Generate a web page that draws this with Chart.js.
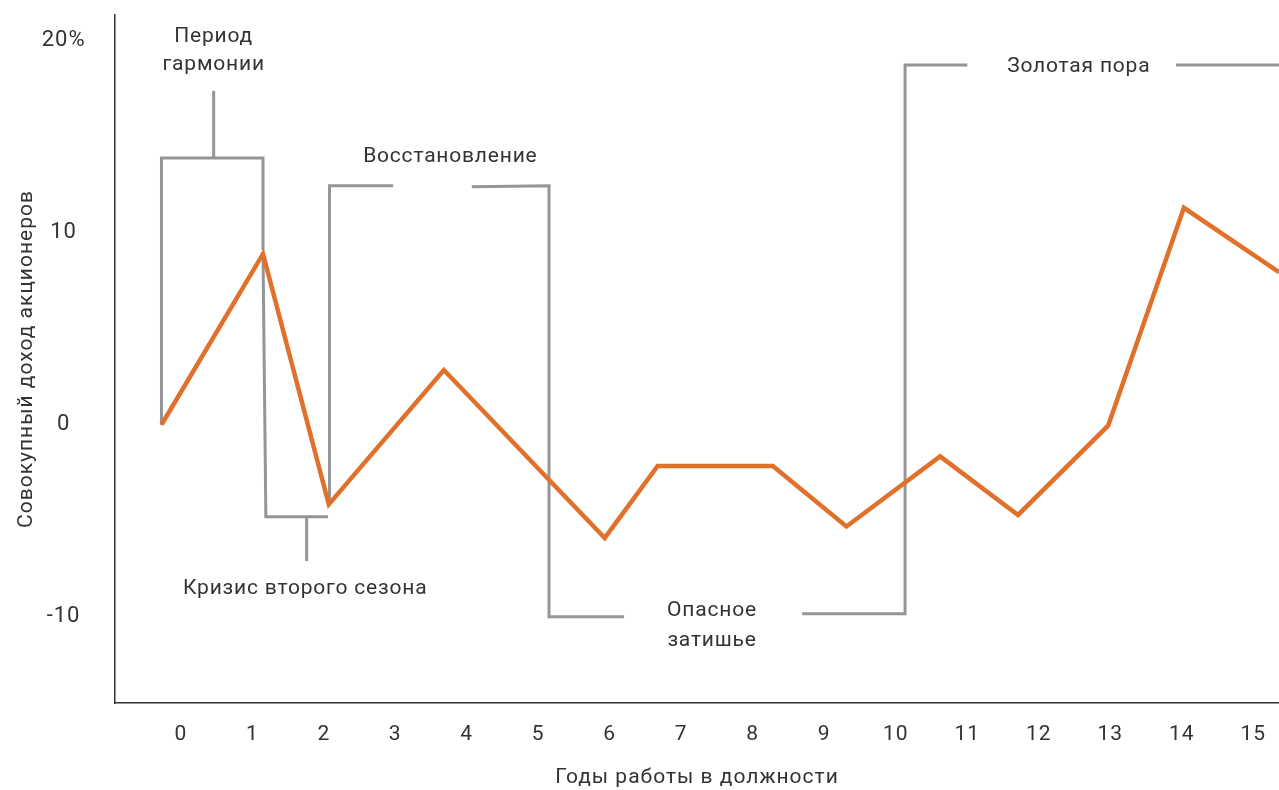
<!DOCTYPE html>
<html>
<head>
<meta charset="utf-8">
<script src="https://cdn.jsdelivr.net/npm/chart.js"></script>
<style>
  html, body { margin: 0; padding: 0; background: #fff; }
  #wrap { width: 1279px; height: 790px; }
</style>
</head>
<body>
<div id="wrap"><canvas id="tsrChart"></canvas></div>
<script>
// data
var years = [-0.27, 1.15, 2.07, 3.68, 5.93, 6.67, 8.28, 9.31, 10.62, 11.71, 12.97, 14.03, 15.36];
var tsr   = [0, 8.9, -4.15, 2.85, -5.9, -2.15, -2.15, -5.3, -1.65, -4.7, -0.05, 11.3, 7.95];
var xTicks = [0, 1, 2, 3, 4, 5, 6, 7, 8, 9, 10, 11, 12, 13, 14, 15];
var yTicks = [-10, 0, 10, 20];

// bracket lines, in chart units
var brackets = [
  [[-0.27, 0], [-0.27, 13.9], [1.15, 13.9], [1.15, 9.1]],
  [[0.46, 13.9], [0.46, 17.4]],
  [[1.15, 9.0], [1.19, -4.8], [2.06, -4.8]],
  [[1.76, -4.8], [1.76, -7.1]],
  [[2.08, -4.1], [2.08, 12.45], [2.97, 12.45]],
  [[4.07, 12.4], [5.15, 12.45], [5.15, -10.0], [6.2, -10.0]],
  [[8.69, -9.85], [10.13, -9.85], [10.13, 18.75], [11.0, 18.75]],
  [[13.92, 18.75], [15.5, 18.75]]
];
var phaseLabels = [
  { text: 'Период', x: 0.46, y: 20.2 },
  { text: 'гармонии', x: 0.46, y: 18.75 },
  { text: 'Кризис второго сезона', x: 1.74, y: -8.54 },
  { text: 'Восстановление', x: 3.77, y: 13.96 },
  { text: 'Опасное', x: 7.43, y: -9.69 },
  { text: 'затишье', x: 7.43, y: -11.25 },
  { text: 'Золотая пора', x: 12.56, y: 18.65 }
];

var textColor = '#333333';
var fontFamily = 'Roboto, "Noto Sans", sans-serif';

var spacingPlugin = {
  id: 'spacing',
  beforeInit: function(chart) { chart.ctx.letterSpacing = '1px'; },
  beforeDraw: function(chart) { chart.ctx.letterSpacing = '1px'; }
};

var bracketPlugin = {
  id: 'brackets',
  beforeDatasetsDraw: function(chart) {
    var c = chart.ctx, xs = chart.scales.x, ys = chart.scales.y;
    c.save();
    c.strokeStyle = '#939598';
    c.lineWidth = 3;
    c.lineJoin = 'miter';
    brackets.forEach(function(b) {
      c.beginPath();
      b.forEach(function(p, i) {
        var px = xs.getPixelForValue(p[0]), py = ys.getPixelForValue(p[1]);
        if (i === 0) c.moveTo(px, py); else c.lineTo(px, py);
      });
      c.stroke();
    });
    c.fillStyle = textColor;
    c.font = '21px ' + fontFamily;
    c.letterSpacing = '0.8px';
    c.textAlign = 'center';
    c.textBaseline = 'middle';
    phaseLabels.forEach(function(l) {
      c.fillText(l.text, xs.getPixelForValue(l.x), ys.getPixelForValue(l.y));
    });
    c.restore();
  }
};

new Chart(document.getElementById('tsrChart'), {
  type: 'line',
  data: {
    datasets: [{
      data: years.map(function(x, i) { return { x: x, y: tsr[i] }; }),
      borderColor: '#E0702A',
      borderWidth: 4.5,
      pointRadius: 0,
      tension: 0,
      fill: false
    }]
  },
  options: {
    responsive: true,
    maintainAspectRatio: false,
    animation: false,
    layout: { padding: { top: 15, right: 0, left: 0, bottom: 0 } },
    plugins: { legend: { display: false }, tooltip: { enabled: false } },
    scales: {
      x: {
        type: 'linear',
        min: -0.92,
        max: 15.36,
        afterBuildTicks: function(s) { s.ticks = xTicks.map(function(v) { return { value: v }; }); },
        afterFit: function(s) { s.height = 87; s.paddingLeft = 0; s.paddingRight = 0; },
        grid: { display: false },
        border: { display: true, color: '#333', width: 1.5 },
        ticks: { color: textColor, font: { size: 21, family: fontFamily }, padding: 11, maxRotation: 0, autoSkip: false },
        title: {
          display: true,
          text: 'Годы работы в должности',
          color: textColor,
          font: { size: 21, family: fontFamily },
          padding: { top: 0, bottom: 0 }
        }
      },
      y: {
        min: -14.5,
        max: 21.35,
        afterBuildTicks: function(s) { s.ticks = yTicks.map(function(v) { return { value: v }; }); },
        afterFit: function(s) { s.width = 115; s.paddingTop = 0; s.paddingBottom = 0; },
        grid: { display: false },
        border: { display: true, color: '#333', width: 1.5 },
        ticks: {
          color: textColor,
          font: { size: 22, family: fontFamily },
          crossAlign: 'center',
          padding: 23,
          callback: function(v) { return v === 20 ? '20%' : String(v); }
        },
        title: {
          display: true,
          text: 'Совокупный доход акционеров',
          color: textColor,
          font: { size: 21, family: fontFamily },
          padding: { top: 14, bottom: 0 }
        }
      }
    }
  },
  plugins: [spacingPlugin, bracketPlugin]
});
</script>
</body>
</html>
